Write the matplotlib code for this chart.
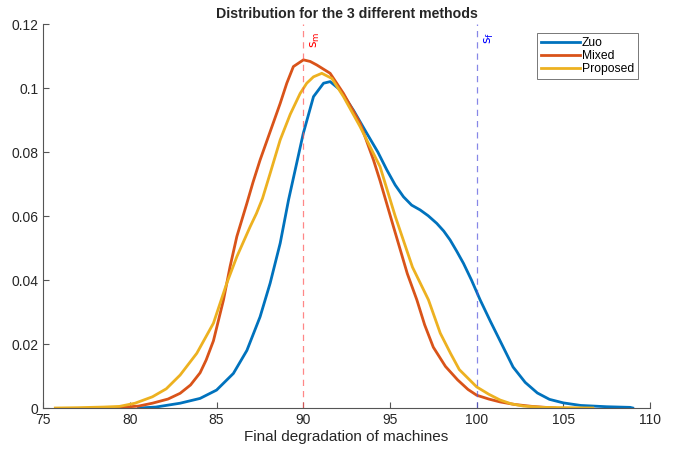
import numpy as np
import matplotlib
matplotlib.use('Agg')
import matplotlib.pyplot as plt

plt.rcParams['font.family'] = ['Liberation Sans', 'DejaVu Sans']

# 曲线数据
zuo_x = [80.5, 81.5, 82.9, 84.05, 85.0, 85.97, 86.75, 87.51, 88.09, 88.67, 89.15,
         89.6, 90.0, 90.59, 91.17, 91.55, 92.13, 92.9, 93.67, 94.3, 94.82, 95.3,
         95.78, 96.25, 96.74, 97.2, 97.7, 98.1, 98.47, 98.85, 99.24, 99.7, 100.2,
         100.8, 101.35, 102.1, 102.8, 103.5, 104.2, 105.0, 106.0, 107.5, 108.85,
         109.0]
zuo_y = [0.0, 0.0003, 0.0015, 0.003, 0.0056, 0.0108, 0.018, 0.0285, 0.039, 0.0515,
         0.065, 0.076, 0.0858, 0.0973, 0.1015, 0.102, 0.0994, 0.093, 0.0858, 0.080,
         0.0744, 0.0697, 0.066, 0.0634, 0.0619, 0.0601, 0.0577, 0.0553, 0.0525,
         0.049, 0.0452, 0.040, 0.0338, 0.027, 0.021, 0.0128, 0.008, 0.0047,
         0.0027, 0.0016, 0.0008, 0.0004, 0.0002, 0.0]

mixed_x = [79.0, 80.5, 81.3, 82.2, 82.9, 83.5, 84.05, 84.4, 84.82, 85.4, 85.78,
           86.17, 86.75, 87.1, 87.51, 88.1, 88.67, 89.05, 89.43, 90.01, 90.4,
           90.78, 91.55, 92.32, 93.28, 94.05, 94.43, 95.2, 96.0, 96.55, 97.0,
           97.5, 98.2, 98.9, 99.5, 100.0, 100.7, 101.35, 102.2, 103.2, 104.5]
mixed_y = [0.0, 0.0006, 0.0015, 0.0028, 0.0046, 0.0072, 0.011, 0.015, 0.021, 0.0338,
           0.0442, 0.0536, 0.064, 0.0705, 0.0775, 0.0865, 0.0952, 0.1015, 0.1067,
           0.1088, 0.1083, 0.1072, 0.1046, 0.0983, 0.089, 0.0775, 0.071, 0.0567,
           0.042, 0.0338, 0.026, 0.019, 0.013, 0.0088, 0.0058, 0.004, 0.0028,
           0.0019, 0.0011, 0.0005, 0.0]

proposed_x = [75.7, 77.0, 78.5, 79.4, 80.3, 81.3, 82.1, 82.9, 83.86, 84.82, 85.59,
              86.17, 86.94, 87.3, 87.65, 88.1, 88.67, 89.25, 89.82, 90.2, 90.59,
              91.07, 91.65, 92.32, 93.28, 94.43, 95.3, 96.3, 97.22, 97.9, 98.5,
              99.0, 100.0, 100.7, 101.35, 102.0, 102.7, 103.8, 105.2, 106.7]
proposed_y = [0.0, 0.0001, 0.0003, 0.0005, 0.0015, 0.0035, 0.006, 0.0103, 0.0171,
              0.0265, 0.039, 0.0473, 0.0567, 0.0608, 0.0655, 0.0735, 0.0838,
              0.0918, 0.0983, 0.1015, 0.1035, 0.1046, 0.103, 0.0973, 0.0879,
              0.0754, 0.060, 0.044, 0.0338, 0.0234, 0.017, 0.012, 0.0066, 0.0043,
              0.0025, 0.0013, 0.0006, 0.0002, 0.0001, 0.0]

labels = ['Zuo', 'Mixed', 'Proposed']
colors = ['#0072BD', '#D95319', '#EDB120']

s_m = 90
s_f = 100

fig = plt.figure(figsize=(6.85, 4.49), dpi=100)
ax = fig.add_axes([0.063, 0.0913, 0.886, 0.8552])

for xs, ys, lab, c in zip([zuo_x, mixed_x, proposed_x],
                          [zuo_y, mixed_y, proposed_y], labels, colors):
    ax.plot(xs, ys, color=c, lw=2.0, label=lab, solid_joinstyle='round')

# 阈值竖线
ax.plot([s_m, s_m], [0, 0.12], ls=(0, (5, 4)), color='#ff5555', alpha=0.7, lw=0.9)
ax.plot([s_f, s_f], [0, 0.12], ls=(0, (5, 4)), color='#5555dd', alpha=0.7, lw=0.9)
ax.text(s_m + 0.35, 0.1175, r'$\mathrm{s}_\mathrm{m}$', color='red', rotation=90,
        ha='left', va='top', fontsize=9)
ax.text(s_f + 0.35, 0.1175, r'$\mathrm{s}_\mathrm{f}$', color='blue', rotation=90,
        ha='left', va='top', fontsize=9)

ax.set_xlim(75, 110)
ax.set_ylim(0, 0.12)
ax.set_xticks(np.arange(75, 111, 5))
ax.set_yticks(np.arange(0, 0.121, 0.02))
ax.set_yticklabels(['0', '0.02', '0.04', '0.06', '0.08', '0.1', '0.12'])

for s in ['top', 'right']:
    ax.spines[s].set_visible(False)
for s in ['left', 'bottom']:
    ax.spines[s].set_color('#555555')
    ax.spines[s].set_linewidth(0.8)
ax.tick_params(direction='in', length=4, colors='#555555', labelcolor='#262626',
               labelsize=10)

ax.set_xlabel('Final degradation of machines', fontsize=11, color='#262626', labelpad=2)
ax.set_title('Distribution for the 3 different methods', fontsize=10.2,
             fontweight='bold', color='#262626', pad=4)

leg = ax.legend(loc='upper right', bbox_to_anchor=(0.986, 0.985), fontsize=8.7,
                fancybox=False, edgecolor='#555555', handlelength=3.2,
                handletextpad=0.2, borderpad=0.3, labelspacing=0.1,
                borderaxespad=0.3)
leg.get_frame().set_linewidth(0.7)

fig.savefig('out.png', dpi=100)
